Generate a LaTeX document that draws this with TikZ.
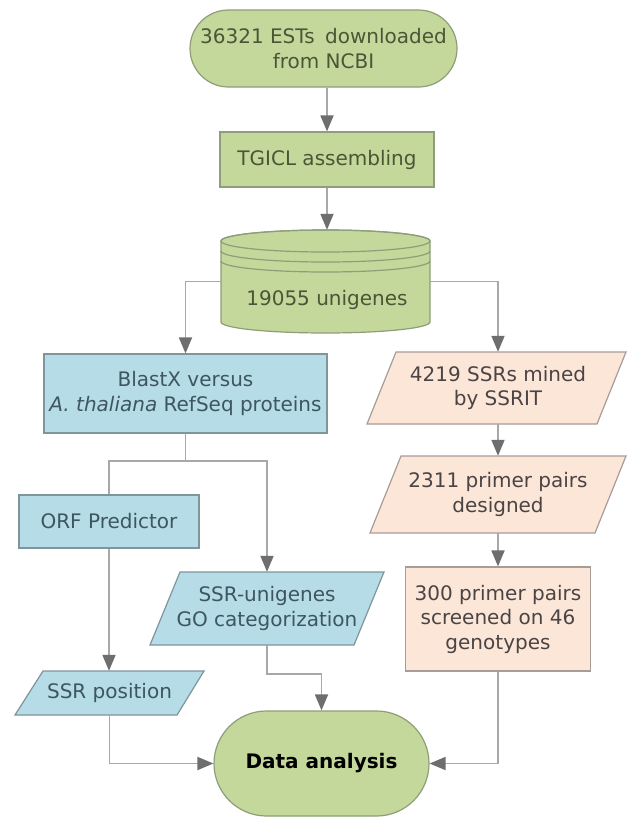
\documentclass[tikz,border=0pt]{standalone}
\usepackage{fontspec}
\setmainfont{DejaVu Sans}
\usetikzlibrary{arrows.meta}

\definecolor{gfill}{HTML}{C4D89C}
\definecolor{gline}{HTML}{8E9E78}
\definecolor{gtext}{HTML}{4B5636}
\definecolor{bfill}{HTML}{B5DCE7}
\definecolor{bline}{HTML}{7E959C}
\definecolor{btext}{HTML}{3D5661}
\definecolor{pfill}{HTML}{FCE6D8}
\definecolor{pline}{HTML}{A89C98}
\definecolor{ptext}{HTML}{4A4444}
\definecolor{conn}{HTML}{A8A8A8}
\definecolor{tipc}{HTML}{6E6E6E}

\tikzset{
  lbl/.style={font=\fontsize{20}{24.5}\selectfont, align=center, inner sep=0pt},
  greenbox/.style={lbl, draw=gline, fill=gfill, text=gtext, line width=1.2pt},
  bluebox/.style={lbl, draw=bline, fill=bfill, text=btext, line width=1.2pt},
  peachbox/.style={lbl, draw=pline, fill=pfill, text=ptext, line width=1.2pt},
  bluepara/.style={draw=bline, fill=bfill, line width=1.2pt, line join=miter},
  peachpara/.style={draw=pline, fill=pfill, line width=1.2pt, line join=miter},
  greenshape/.style={draw=gline, fill=gfill, line width=1.2pt},
  flow/.style={draw=conn, line width=1.8pt, line join=miter},
  arr/.style={flow, -{Triangle[width=13pt,length=16pt,color=tipc]}},
}

\begin{document}
\begin{tikzpicture}[x=1pt,y=-1pt]
\useasboundingbox (0,0) rectangle (627,817);
\fill[white] (0,0) rectangle (627,817);

% unigene database cylinder
\path[greenshape] (221,241) -- (221,322)
  arc[start angle=180, end angle=360, x radius=104.5pt, y radius=11pt]
  -- (430,241)
  arc[start angle=0, end angle=180, x radius=104.5pt, y radius=11pt] -- cycle;
\draw[gline, line width=1.2pt] (325.5,241) ellipse[x radius=104.5pt, y radius=11pt];
\draw[gline, line width=1.2pt] (221,251) arc[start angle=180, end angle=360, x radius=104.5pt, y radius=11pt];
\draw[gline, line width=1.2pt] (221,261) arc[start angle=180, end angle=360, x radius=104.5pt, y radius=11pt];
\node[lbl, text=gtext] (dbl) at (327,300) {19055 unigenes};
\node[inner sep=0pt, minimum width=209pt, minimum height=103pt] (db) at (325.5,281.5) {};

% parallelogram outlines
\path[peachpara] (367,424) -- (396,352) -- (626,352) -- (597,424) -- cycle;
\path[peachpara] (370,533) -- (401,456) -- (626,456) -- (595,533) -- cycle;
\path[bluepara] (150,645) -- (180,572) -- (384,572) -- (354,645) -- cycle;
\path[bluepara] (15,715) -- (43,671) -- (204,671) -- (177,715) -- cycle;

% nodes
\node[greenbox, rounded corners=38.5pt, minimum width=267pt, minimum height=77pt]
  (src) at (323.5,48.5) {36321 ESTs\kern4pt\ downloaded\\from NCBI};
\node[greenbox, minimum width=214pt, minimum height=55pt] (tg) at (327,159.5) {TGICL assembling};
\node[bluebox, minimum width=283pt, minimum height=79pt] (blast) at (185.5,393.5)
  {BlastX versus\\\textit{A. thaliana} RefSeq proteins};
\node[lbl, text=ptext, minimum height=72pt] (mine) at (498,388) {4219 SSRs mined\\by SSRIT};
\node[lbl, text=ptext, minimum height=77pt] (prim) at (498,494.5) {2311 primer pairs\\designed};
\node[peachbox, minimum width=185pt, minimum height=104pt] (scr) at (498,619)
  {300 primer pairs\\screened on 46\\genotypes};
\node[bluebox, minimum width=180pt, minimum height=53pt] (orf) at (109,521.5) {ORF Predictor};
\node[lbl, text=btext, minimum height=73pt] (go) at (267,608.5) {SSR-unigenes\\GO categorization};
\node[lbl, text=btext, minimum height=44pt] (pos) at (109.5,693) {SSR position};
\node[greenbox, text=black, font=\fontsize{20}{24.5}\selectfont\bfseries, rounded corners=52.5pt,
  minimum width=215pt, minimum height=105pt] (da) at (321.5,763.5) {Data analysis};

% connectors
\coordinate (br) at (185.5,461);
\draw[arr] (tg.north |- src.south) -- (tg.north);
\draw[arr] (tg.south) -- (tg.south |- db.north);
\draw[arr] (db.west) -| (blast.north);
\draw[arr] (db.east) -| (mine.north);
\draw[arr] (mine.south) -- (prim.north);
\draw[arr] (prim.south) -- (scr.north);
\draw[flow] (blast.south) -- (br);
\draw[flow] (orf.north) |- (br);
\draw[arr] (br) -| (go.north);
\draw[arr] (orf.south) -- (orf.south |- pos.north);
\draw[arr] (go.south) -- ++(0,29) -| (da.north);
\draw[arr] (pos.south) |- (da.west);
\draw[arr] (scr.south) |- (da.east);
\end{tikzpicture}
\end{document}
